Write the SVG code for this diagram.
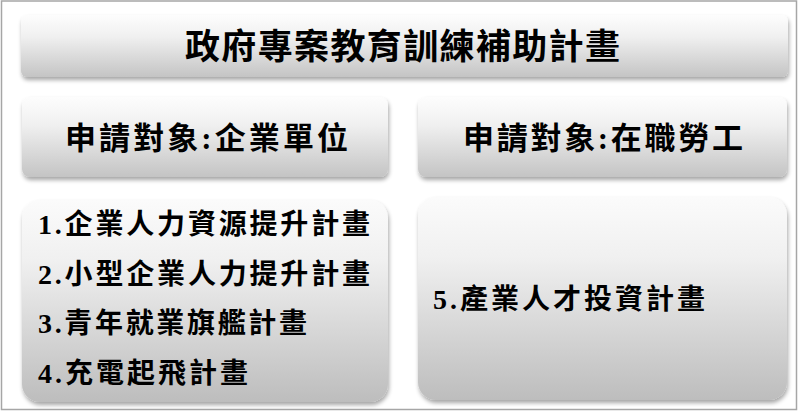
<svg xmlns="http://www.w3.org/2000/svg" width="800" height="411" viewBox="0 0 800 411">
<defs>
<linearGradient id="gHead" x1="0" y1="0" x2="0" y2="1">
<stop offset="0" stop-color="#fdfdfd"/>
<stop offset="0.35" stop-color="#f0f0f0"/>
<stop offset="1" stop-color="#c4c4c4"/>
</linearGradient>
<linearGradient id="gBody" x1="0" y1="0" x2="0" y2="1">
<stop offset="0" stop-color="#fbfbfb"/>
<stop offset="0.3" stop-color="#f0f0f0"/>
<stop offset="1" stop-color="#bdbdbd"/>
</linearGradient>
<filter id="sh" x="-5%" y="-10%" width="110%" height="125%">
<feGaussianBlur in="SourceAlpha" stdDeviation="2"/>
<feOffset dx="1" dy="3" result="b"/>
<feComponentTransfer><feFuncA type="linear" slope="0.35"/></feComponentTransfer>
<feMerge><feMergeNode/><feMergeNode in="SourceGraphic"/></feMerge>
</filter>
</defs>
<style>
.head{fill:url(#gHead);filter:url(#sh);}
.body{fill:url(#gBody);filter:url(#sh);}
text{font-family:"Liberation Serif","Noto Sans CJK TC",serif;font-weight:bold;fill:#000;}
.t1{font-size:35px;}
.t2{font-size:31px;}
.t3{font-size:28px;}
</style>
<rect x="1.5" y="1" width="795" height="408.5" fill="#fff" stroke="#a6a6a6" stroke-width="1.5"/>
<g id="title">
<rect class="head" x="21" y="15" width="767" height="62" rx="6"/>
<text class="t1" x="185" y="59" textLength="435" lengthAdjust="spacing">政府專案教育訓練補助計畫</text>
</g>
<g id="header-enterprise">
<rect class="head" x="22" y="97" width="366" height="80" rx="8"/>
<text class="t2" x="65" y="149" textLength="283" lengthAdjust="spacing">申請對象:企業單位</text>
</g>
<g id="header-worker">
<rect class="head" x="418" y="97" width="369" height="80" rx="8"/>
<text class="t2" x="463" y="149" textLength="280" lengthAdjust="spacing">申請對象:在職勞工</text>
</g>
<g id="list-enterprise">
<rect class="body" x="22" y="200" width="366" height="202" rx="18"/>
<text class="t3" x="38" y="234" textLength="332" lengthAdjust="spacing">1.企業人力資源提升計畫</text>
<text class="t3" x="38" y="284" textLength="332" lengthAdjust="spacing">2.小型企業人力提升計畫</text>
<text class="t3" x="38" y="333" textLength="269" lengthAdjust="spacing">3.青年就業旗艦計畫</text>
<text class="t3" x="38" y="383" textLength="210" lengthAdjust="spacing">4.充電起飛計畫</text>
</g>
<g id="list-worker">
<rect class="body" x="418" y="197" width="369" height="203" rx="18"/>
<text class="t3" x="433" y="309" textLength="272" lengthAdjust="spacing">5.產業人才投資計畫</text>
</g>
</svg>
